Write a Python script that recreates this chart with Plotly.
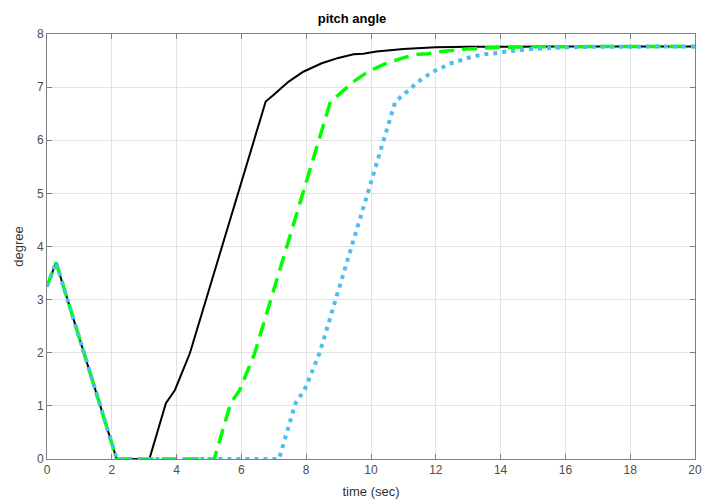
import plotly.graph_objects as go

# Black solid series
t_black = [0, 0.28, 2.15, 3.16, 3.67, 3.95, 4.41, 6.75, 6.99, 7.45, 7.91, 8.48, 8.99,
           9.46, 9.76, 10.17, 11.0, 12.0, 13.0, 14.0, 16.0, 18.0, 20.0]
y_black = [3.25, 3.70, 0, 0, 1.05, 1.30, 1.99, 6.73, 6.85, 7.10, 7.29, 7.45, 7.55,
           7.62, 7.63, 7.67, 7.72, 7.75, 7.76, 7.765, 7.765, 7.765, 7.765]

# Green dashed series
t_green = [0, 0.28, 2.15, 5.16, 5.67, 5.95, 6.41, 8.75, 8.99, 9.45, 9.91, 10.48, 10.99,
           11.46, 11.76, 12.17, 13.0, 14.0, 15.0, 16.0, 18.0, 20.0]
y_green = [3.25, 3.70, 0, 0, 1.05, 1.30, 1.99, 6.73, 6.85, 7.10, 7.29, 7.45, 7.55,
           7.62, 7.63, 7.67, 7.72, 7.75, 7.76, 7.765, 7.765, 7.765]

# Blue dotted series
t_blue = [0, 0.28, 2.15, 7.16, 7.67, 7.95, 8.41, 10.75, 10.99, 11.45, 11.91, 12.48, 12.99,
          13.46, 13.76, 14.17, 15.0, 16.0, 17.0, 18.0, 20.0]
y_blue = [3.25, 3.70, 0, 0, 1.05, 1.30, 1.99, 6.73, 6.85, 7.10, 7.29, 7.45, 7.55,
          7.62, 7.63, 7.67, 7.72, 7.75, 7.76, 7.765, 7.765]

x_ticks = [0, 2, 4, 6, 8, 10, 12, 14, 16, 18, 20]
y_ticks = [0, 1, 2, 3, 4, 5, 6, 7, 8]

fig = go.Figure()
fig.add_trace(go.Scatter(x=t_black, y=y_black, mode="lines",
                         line=dict(color="black", width=2), showlegend=False))
fig.add_trace(go.Scatter(x=t_green, y=y_green, mode="lines",
                         line=dict(color="#00ff00", width=3.5, dash="15px,8px"), showlegend=False))
fig.add_trace(go.Scatter(x=t_blue, y=y_blue, mode="lines",
                         line=dict(color="#4dbeee", width=4, dash="4px,5px"), showlegend=False))

axis_common = dict(
    showline=True, linecolor="#808080", linewidth=1, mirror="ticks",
    ticks="inside", ticklen=5, tickcolor="#808080",
    showgrid=True, gridcolor="#e3e3e3", gridwidth=1, zeroline=False,
    automargin=False,
    tickfont=dict(family="Liberation Sans, Arial", size=12, color="#4d4d4d"),
)

fig.update_xaxes(range=[0, 20], tickvals=x_ticks, **axis_common,
                 title=dict(text="time (sec)", font=dict(family="Liberation Sans, Arial", size=13, color="#333333"),
                            standoff=10))
fig.update_yaxes(range=[0, 8], tickvals=y_ticks, **axis_common,
                 title=dict(text="degree", font=dict(family="Liberation Sans, Arial", size=13, color="#333333"),
                            standoff=10))

fig.update_layout(
    width=704, height=504,
    margin=dict(l=47, r=9, t=34, b=45),
    plot_bgcolor="white", paper_bgcolor="white",
    title=dict(text="<b>pitch angle</b>", x=0.5, xanchor="center", y=1 - 18 / 504, yanchor="middle",
               font=dict(family="Liberation Sans, Arial", size=13, color="black")),
)

fig.write_html("out.html")
